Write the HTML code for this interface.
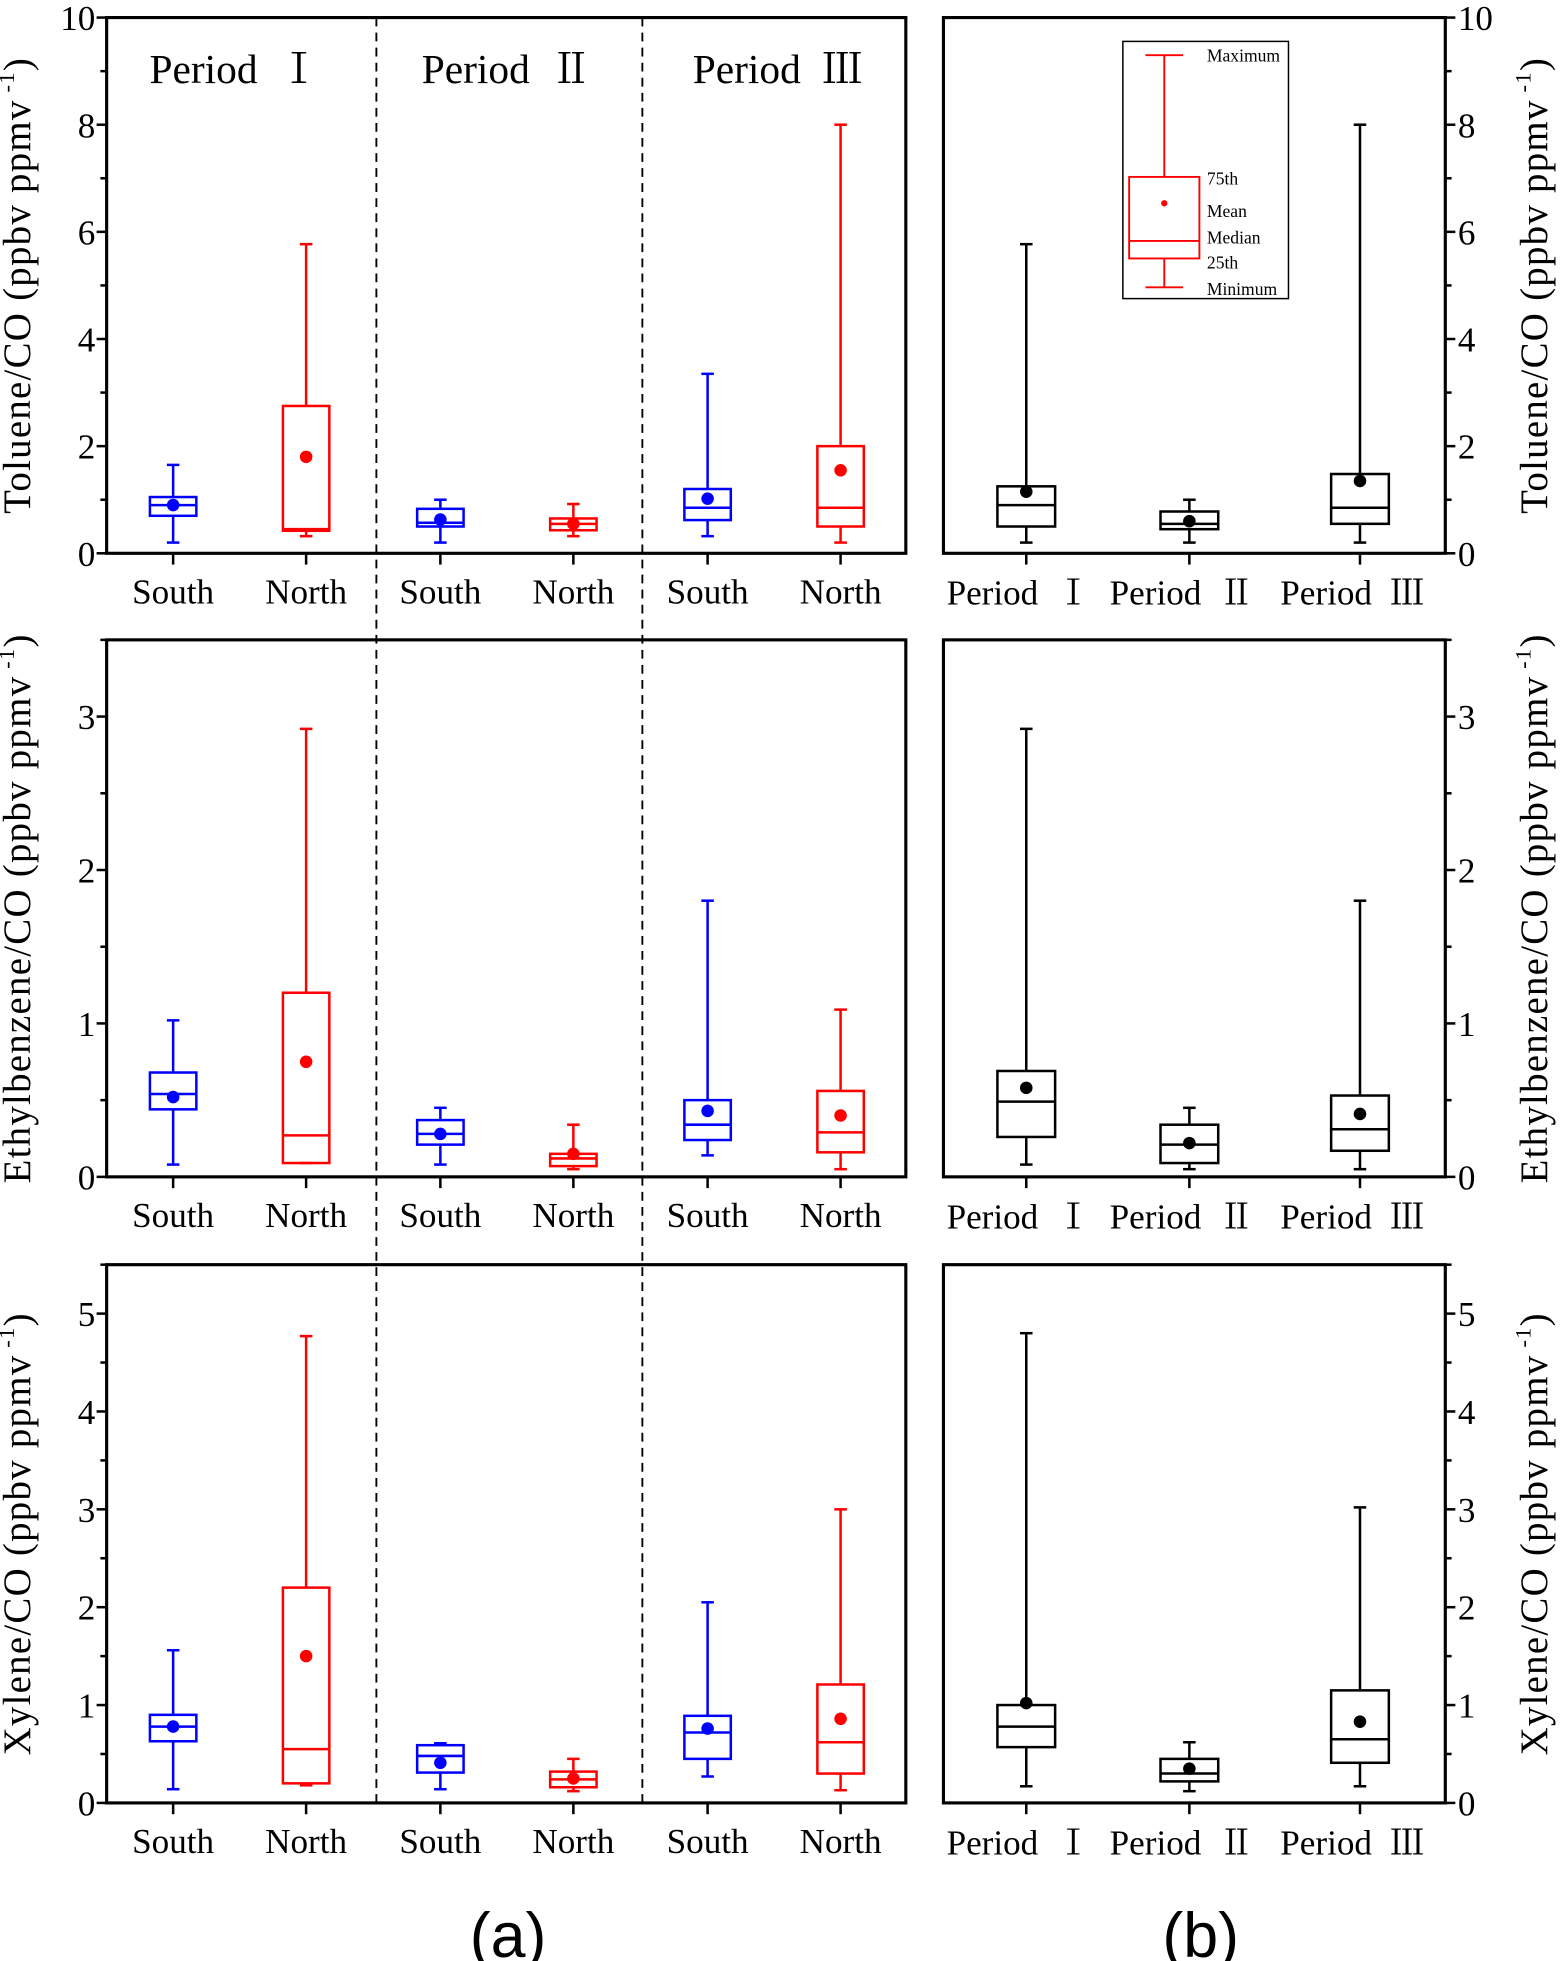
<!DOCTYPE html>
<html><head><meta charset="utf-8"><style>
html,body{margin:0;padding:0;background:#fff}
svg{display:block}
text{font-family:"Liberation Serif","Noto Serif CJK SC",serif;fill:#000}
</style></head><body>
<svg id="c" width="1567" height="1961" viewBox="0 0 1249 1563" preserveAspectRatio="none" xmlns="http://www.w3.org/2000/svg"></svg>
<script>
// Data: [min, q1, median, q3, max, mean]
const siteLabels = ["South","North","South","North","South","North"];
const periodLabels = ["Period Ⅰ","Period Ⅱ","Period Ⅲ"];
const tolueneSites = [[0.2,0.7,0.9,1.05,1.65,0.9],[0.32,0.42,0.45,2.75,5.77,1.8],[0.2,0.5,0.57,0.83,1.0,0.63],[0.32,0.43,0.55,0.65,0.92,0.55],[0.32,0.62,0.85,1.2,3.35,1.02],[0.2,0.5,0.85,2.0,8.0,1.55]];
const toluenePeriods = [[0.2,0.5,0.9,1.25,5.77,1.15],[0.2,0.45,0.55,0.78,1.0,0.6],[0.2,0.55,0.85,1.48,8.0,1.35]];
const ethylSites = [[0.08,0.44,0.54,0.68,1.02,0.52],[0.09,0.09,0.27,1.2,2.92,0.75],[0.08,0.21,0.28,0.37,0.45,0.28],[0.05,0.07,0.12,0.15,0.34,0.15],[0.14,0.24,0.34,0.5,1.8,0.43],[0.05,0.16,0.29,0.56,1.09,0.4]];
const ethylPeriods = [[0.08,0.26,0.49,0.69,2.92,0.58],[0.05,0.09,0.21,0.34,0.45,0.22],[0.05,0.17,0.31,0.53,1.8,0.41]];
const xyleneSites = [[0.14,0.63,0.78,0.9,1.56,0.78],[0.18,0.2,0.55,2.2,4.77,1.5],[0.14,0.31,0.48,0.59,0.61,0.41],[0.12,0.16,0.24,0.32,0.45,0.25],[0.27,0.45,0.72,0.89,2.05,0.76],[0.13,0.3,0.62,1.21,3.0,0.86]];
const xylenePeriods = [[0.17,0.57,0.78,1.0,4.8,1.02],[0.12,0.22,0.3,0.45,0.62,0.35],[0.17,0.41,0.65,1.15,3.02,0.83]];
const tolTicks = [0,2,4,6,8,10];
const ethTicks = [0,1,2,3];
const xylTicks = [0,1,2,3,4,5];

const svg = document.getElementById('c');
const NS = "http://www.w3.org/2000/svg";
function el(tag, attrs, parent){const e=document.createElementNS(NS,tag);for(const k in attrs)e.setAttribute(k,attrs[k]);(parent||svg).appendChild(e);return e;}
function txt(s,attrs,parent){const e=el('text',attrs,parent);e.textContent=s;return e;}
function periodText(s,attrs,parent){
 const e=el('text',attrs,parent);
 const parts=s.split(' ');
 e.appendChild(document.createTextNode(parts[0]+'  '));
 const t=document.createElementNS(NS,'tspan');
 t.setAttribute('style','font-family:"Noto Serif CJK SC",serif');
 t.textContent=parts[1];e.appendChild(t);
 e.setAttribute('xml:space','preserve');e.style.whiteSpace='pre';
 return e;
}

const siteX=[138,244,351,457,564,670], perX=[818,948,1084];
const siteColors=["#0000ff","#ff0000","#0000ff","#ff0000","#0000ff","#ff0000"];
const rows=[
 {top:14,bot:441,max:10,ticks:tolTicks,sites:tolueneSites,periods:toluenePeriods,label:"Toluene/CO (ppbv ppmv",name:"toluene"},
 {top:510,bot:938,max:3.5,ticks:ethTicks,sites:ethylSites,periods:ethylPeriods,label:"Ethylbenzene/CO (ppbv ppmv",name:"ethylbenzene"},
 {top:1008,bot:1437,max:5.5,ticks:xylTicks,sites:xyleneSites,periods:xylenePeriods,label:"Xylene/CO (ppbv ppmv",name:"xylene"}
];

function drawBox(g,cx,d,y,col,w){
 const [mn,q1,md,q3,mx,mean]=d;
 const a=el('line',{x1:cx,x2:cx,y1:y(mn),y2:y(q1),stroke:col,'stroke-width':2},g);
 
 const b=el('line',{x1:cx,x2:cx,y1:y(q3),y2:y(mx),stroke:col,'stroke-width':2},g);
 
 el('line',{x1:cx-5,x2:cx+5,y1:y(mn),y2:y(mn),stroke:col,'stroke-width':2},g);
 el('line',{x1:cx-5,x2:cx+5,y1:y(mx),y2:y(mx),stroke:col,'stroke-width':2},g);
 const r=el('rect',{x:cx-w/2,y:y(q3),width:w,height:y(q1)-y(q3),fill:'none',stroke:col,'stroke-width':2},g);
 
 const m=el('line',{x1:cx-w/2,x2:cx+w/2,y1:y(md),y2:y(md),stroke:col,'stroke-width':2},g);
 
 const c=el('circle',{cx:cx,cy:y(mean),r:5,fill:col},g);
 
}

rows.forEach((R,ri)=>{
 const y=v=>R.bot-(R.bot-R.top)*v/R.max;
 const g=el('g',{});
 
 const f1=el('rect',{x:85,y:R.top,width:637,height:R.bot-R.top,fill:'none',stroke:'#000','stroke-width':2.5},g);
 
 const f2=el('rect',{x:752,y:R.top,width:400,height:R.bot-R.top,fill:'none',stroke:'#000','stroke-width':2.5},g);
 
 const step=R.ticks[1]-R.ticks[0];
 for(let v=0;v<=R.max+1e-9;v+=step/2){
  const major=Math.abs(v/step-Math.round(v/step))<1e-6;
  const L=major?8:5;
  el('line',{x1:85-L,x2:85,y1:y(v),y2:y(v),stroke:'#000','stroke-width':2},g);
  el('line',{x1:1152,x2:1152+L,y1:y(v),y2:y(v),stroke:'#000','stroke-width':2},g);
 }
 R.ticks.forEach(t=>{
  const a=txt(String(t),{x:76,y:y(t)+10,'font-size':28,'text-anchor':'end'},g);
  
  const b=txt(String(t),{x:1162,y:y(t)+10,'font-size':28,'text-anchor':'start'},g);
  
 });
 siteX.forEach((x,i)=>{
  el('line',{x1:x,x2:x,y1:R.bot,y2:R.bot+9,stroke:'#000','stroke-width':2},g);
  const t=txt(siteLabels[i],{x:x,y:R.bot+40,'font-size':28,'text-anchor':'middle'},g);
  
  drawBox(g,x,R.sites[i],y,siteColors[i],37);
 });
 perX.forEach((x,i)=>{
  el('line',{x1:x,x2:x,y1:R.bot,y2:R.bot+9,stroke:'#000','stroke-width':2},g);
  const t=periodText(periodLabels[i],{x:x-6,y:R.bot+41,'font-size':28,'text-anchor':'middle'},g);
  
  drawBox(g,x,R.periods[i],y,'#000',46);
 });
 const cy=(R.top+R.bot)/2;
 [[17,-90],[1226,-90]].forEach(([x,rot],k)=>{
  const t=el('text',{x:x,y:cy,'font-size':31,'text-anchor':'middle',transform:`rotate(${rot} ${x} ${cy})`,'dominant-baseline':'middle','letter-spacing':'1'},g);
  
  t.textContent=R.label;
  const s=document.createElementNS(NS,'tspan');s.setAttribute('font-size','18');s.setAttribute('dy','-10');s.textContent=' -1';t.appendChild(s);
  const s2=document.createElementNS(NS,'tspan');s2.setAttribute('dy','10');s2.textContent=')';t.appendChild(s2);
 });
});
[300,512].forEach(x=>{
 const l=el('line',{x1:x,x2:x,y1:14,y2:1437,stroke:'#000','stroke-width':1.5,'stroke-dasharray':'7,5'});
 
});
[[187,"Period Ⅰ"],[404,"Period Ⅱ"],[620,"Period Ⅲ"]].forEach(([x,s])=>{
 const t=periodText(s,{x:x,y:66,'font-size':33,'text-anchor':'middle'});
 
});
const lg=el('g',{});

el('rect',{x:895,y:33,width:132,height:205,fill:'#fff',stroke:'#000','stroke-width':1.2},lg);
const RC='#ff0000';
el('line',{x1:913,x2:943,y1:44,y2:44,stroke:RC,'stroke-width':1.5},lg);
el('line',{x1:913,x2:943,y1:229,y2:229,stroke:RC,'stroke-width':1.5},lg);
el('line',{x1:928,x2:928,y1:44,y2:141,stroke:RC,'stroke-width':1.5},lg);
el('line',{x1:928,x2:928,y1:206,y2:229,stroke:RC,'stroke-width':1.5},lg);
el('rect',{x:900,y:141,width:56,height:65,fill:'none',stroke:RC,'stroke-width':1.5},lg);
el('line',{x1:900,x2:956,y1:192,y2:192,stroke:RC,'stroke-width':1.5},lg);
el('circle',{cx:928,cy:162,r:2.5,fill:RC},lg);
[["Maximum",962,49],["75th",962,147],["Mean",962,173],["Median",962,194],["25th",962,214],["Minimum",962,235]].forEach(([s,x,yy])=>{
 const t=txt(s,{x:x,y:yy,'font-size':14},lg);
 
});
[[405,"(a)"],[957,"(b)"]].forEach(([x,s])=>{
 const t=txt(s,{x:x,y:1560,'font-size':50,'text-anchor':'middle'});
 t.setAttribute('style','font-family:"Liberation Sans",sans-serif');
 
});
</script>
</body></html>
